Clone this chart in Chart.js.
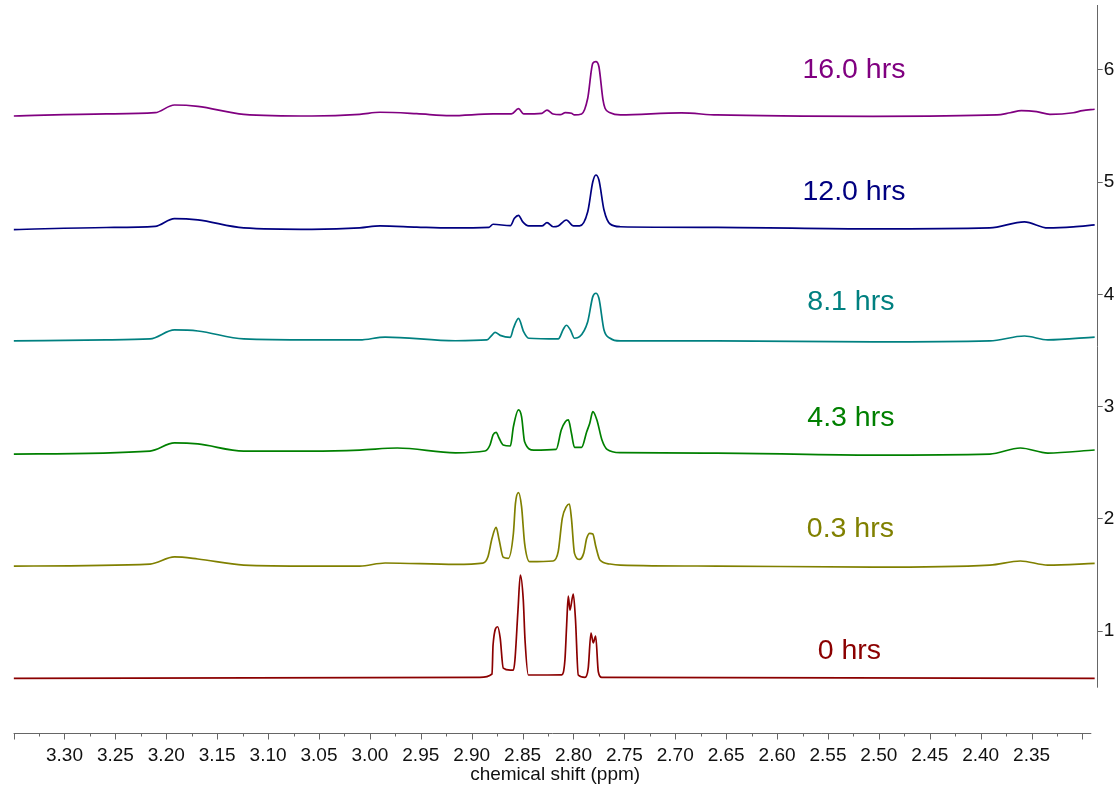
<!DOCTYPE html>
<html>
<head>
<meta charset="utf-8">
<script src="https://cdn.jsdelivr.net/npm/chart.js@4.4.1/dist/chart.umd.min.js"></script>
<style>
  body { margin: 0; background: #fff; }
  canvas { display: block; }
</style>
</head>
<body>
<canvas id="nmr" width="1120" height="785"></canvas>
<script>
// spectra as [ppm, stacked intensity]
const spec0 = [[3.350,0.578],[2.892,0.587],[2.880,0.617],[2.879,0.875],[2.8745,1.038],[2.872,0.938],[2.869,0.670],[2.862,0.652],[2.859,0.652],[2.8575,0.742],[2.8545,1.188],[2.8522,1.499],[2.8493,1.276],[2.8476,0.920],[2.8443,0.608],[2.8116,0.610],[2.8084,0.742],[2.8067,1.054],[2.8051,1.312],[2.8035,1.187],[2.8002,1.330],[2.798,1.098],[2.7953,0.608],[2.7887,0.587],[2.7855,0.670],[2.7828,0.982],[2.7806,0.895],[2.7782,0.955],[2.7756,0.637],[2.7723,0.587],[2.288,0.578]];
const spec1 = [[3.350,1.579],[3.216,1.597],[3.192,1.660],[3.169,1.642],[3.124,1.588],[3.057,1.579],[3.010,1.579],[2.985,1.606],[2.916,1.594],[2.889,1.605],[2.884,1.662],[2.880,1.826],[2.876,1.924],[2.873,1.811],[2.869,1.657],[2.864,1.648],[2.859,1.871],[2.857,2.138],[2.854,2.233],[2.851,2.108],[2.848,1.782],[2.843,1.618],[2.820,1.624],[2.815,1.707],[2.811,2.004],[2.807,2.108],[2.804,2.132],[2.802,2.004],[2.799,1.692],[2.794,1.639],[2.790,1.692],[2.787,1.826],[2.784,1.871],[2.781,1.865],[2.778,1.751],[2.774,1.633],[2.764,1.597],[2.754,1.588],[2.659,1.579],[2.506,1.570],[2.391,1.588],[2.361,1.624],[2.334,1.588],[2.288,1.603]];
const spec2 = [[3.350,2.577],[3.216,2.604],[3.192,2.676],[3.169,2.667],[3.124,2.604],[3.057,2.604],[3.010,2.613],[2.973,2.631],[2.916,2.588],[2.887,2.604],[2.882,2.658],[2.879,2.747],[2.876,2.771],[2.873,2.718],[2.869,2.658],[2.862,2.649],[2.859,2.821],[2.854,2.970],[2.851,2.911],[2.848,2.687],[2.839,2.613],[2.817,2.619],[2.812,2.791],[2.808,2.865],[2.805,2.881],[2.802,2.762],[2.799,2.637],[2.792,2.637],[2.787,2.776],[2.784,2.851],[2.781,2.955],[2.777,2.881],[2.772,2.702],[2.767,2.619],[2.754,2.589],[2.659,2.586],[2.506,2.568],[2.391,2.577],[2.361,2.631],[2.334,2.586],[2.288,2.613]];
const spec3 = [[3.350,3.585],[3.259,3.595],[3.216,3.603],[3.192,3.683],[3.169,3.674],[3.124,3.603],[3.057,3.594],[3.010,3.594],[2.985,3.620],[2.916,3.587],[2.885,3.594],[2.880,3.638],[2.877,3.662],[2.872,3.635],[2.862,3.617],[2.859,3.698],[2.854,3.787],[2.849,3.668],[2.844,3.609],[2.815,3.603],[2.810,3.689],[2.807,3.725],[2.803,3.683],[2.799,3.609],[2.794,3.623],[2.786,3.757],[2.781,3.980],[2.778,4.010],[2.775,3.965],[2.770,3.683],[2.764,3.609],[2.754,3.585],[2.659,3.585],[2.506,3.576],[2.391,3.585],[2.357,3.629],[2.334,3.594],[2.288,3.620]];
const spec4 = [[3.350,4.578],[3.259,4.596],[3.211,4.607],[3.192,4.676],[3.169,4.664],[3.124,4.593],[3.057,4.580],[3.010,4.593],[2.990,4.611],[2.954,4.600],[2.921,4.592],[2.883,4.598],[2.879,4.625],[2.862,4.612],[2.858,4.678],[2.854,4.705],[2.850,4.648],[2.844,4.610],[2.831,4.610],[2.826,4.639],[2.820,4.603],[2.815,4.610],[2.807,4.663],[2.800,4.610],[2.794,4.610],[2.786,4.737],[2.781,5.004],[2.778,5.064],[2.775,5.020],[2.770,4.752],[2.764,4.627],[2.754,4.603],[2.659,4.597],[2.506,4.583],[2.391,4.592],[2.357,4.646],[2.334,4.592],[2.309,4.601],[2.288,4.619]];
const spec5 = [[3.350,5.590],[3.259,5.608],[3.211,5.619],[3.192,5.688],[3.169,5.676],[3.124,5.605],[3.057,5.590],[3.010,5.605],[2.990,5.623],[2.954,5.611],[2.921,5.593],[2.879,5.608],[2.861,5.608],[2.854,5.655],[2.849,5.608],[2.831,5.614],[2.826,5.643],[2.820,5.608],[2.813,5.602],[2.808,5.619],[2.802,5.614],[2.799,5.599],[2.792,5.608],[2.786,5.748],[2.781,6.060],[2.778,6.074],[2.775,6.029],[2.771,5.733],[2.769,5.659],[2.764,5.619],[2.754,5.599],[2.694,5.617],[2.659,5.599],[2.506,5.587],[2.384,5.599],[2.371,5.619],[2.360,5.637],[2.345,5.628],[2.332,5.605],[2.309,5.619],[2.300,5.637],[2.288,5.650]];

const spectra = [spec0, spec1, spec2, spec3, spec4, spec5];
const times = ['0 hrs', '0.3 hrs', '4.3 hrs', '8.1 hrs', '12.0 hrs', '16.0 hrs'];
const colors = ['#8b0000', '#808000', '#008000', '#008080', '#000080', '#800080'];

// where the time labels sit, in ppm / stack units
const labelPpm = [2.529, 2.528, 2.5275, 2.5275, 2.5245, 2.5245];
const labelY = [0.822, 1.909, 2.898, 3.932, 4.912, 6.000];

// axis ranges and ticks
const xLeft = 3.35;
const xRight = 2.286;
const xAxisEnd = 2.2913;
const xTicks = [];
for (let i = 0; i <= 42; i++) xTicks.push(Math.round((2.30 + i * 0.025) * 1000) / 1000);
const yTicks = [1, 2, 3, 4, 5, 6];
const yBottom = 0.109;
const yTop = 6.579;
const yAxisEnd = 0.495;

const isMajor = v => Math.round(v * 1000) % 50 === 0;

const extras = {
  id: 'extras',
  afterDatasetsDraw(chart) {
    const ctx = chart.ctx;
    const x = chart.scales.x, y = chart.scales.y;
    ctx.save();
    ctx.font = '28.5px "Liberation Sans", Arial, sans-serif';
    ctx.textAlign = 'center';
    ctx.textBaseline = 'middle';
    times.forEach((t, i) => {
      ctx.fillStyle = colors[i];
      ctx.fillText(t, x.getPixelForValue(labelPpm[i]), y.getPixelForValue(labelY[i]));
    });
    ctx.restore();
  },
  afterDraw(chart) {
    const ctx = chart.ctx;
    const x = chart.scales.x, y = chart.scales.y;
    const area = chart.chartArea;
    ctx.save();
    ctx.strokeStyle = '#666';
    ctx.lineWidth = 1;
    // bottom axis line and tick marks
    const by = area.bottom + 2.5;
    ctx.beginPath();
    ctx.moveTo(area.left, by);
    ctx.lineTo(x.getPixelForValue(xAxisEnd), by);
    xTicks.forEach(v => {
      const px = Math.round(x.getPixelForValue(v)) + 0.5;
      ctx.moveTo(px, by);
      ctx.lineTo(px, by + (isMajor(v) ? 6 : 3));
    });
    // right axis line
    const rx = Math.round(area.right) + 0.5;
    ctx.moveTo(rx, area.top);
    ctx.lineTo(rx, y.getPixelForValue(yAxisEnd));
    ctx.stroke();
    ctx.restore();
  }
};

new Chart(document.getElementById('nmr'), {
  type: 'line',
  data: {
    datasets: spectra.map((s, i) => ({
      label: times[i],
      data: s.map(p => ({ x: p[0], y: p[1] })),
      borderColor: colors[i],
      borderWidth: 1.7,
      pointRadius: 0,
      cubicInterpolationMode: 'monotone',
      fill: false
    }))
  },
  options: {
    responsive: false,
    devicePixelRatio: 1,
    animation: false,
    layout: { padding: { left: 13.6, top: 5, right: 0, bottom: 0 } },
    plugins: { legend: { display: false }, tooltip: { enabled: false } },
    scales: {
      x: {
        type: 'linear',
        reverse: true,
        min: xRight,
        max: xLeft,
        grid: { display: false },
        border: { display: false },
        afterBuildTicks: s => { s.ticks = xTicks.map(v => ({ value: v })); },
        afterFit: s => { s.height = 54; s.paddingLeft = 0; s.paddingRight = 0; },
        ticks: {
          autoSkip: false,
          maxRotation: 0,
          padding: 5,
          color: '#111',
          font: { family: '"Liberation Sans", Arial, sans-serif', size: 19 },
          callback: v => (isMajor(v) && v !== 2.3 && v !== 3.35) ? v.toFixed(2) : ''
        },
        title: {
          display: true,
          text: 'chemical shift (ppm)',
          color: '#111',
          padding: { top: 0, bottom: -1.5 },
          font: { family: '"Liberation Sans", Arial, sans-serif', size: 19 }
        }
      },
      y: {
        type: 'linear',
        position: 'right',
        min: yBottom,
        max: yTop,
        afterBuildTicks: s => { s.ticks = yTicks.map(v => ({ value: v })); },
        afterFit: s => { s.width = 23.3; s.paddingTop = 0; s.paddingBottom = 0; },
        grid: { drawOnChartArea: false, tickLength: 6, color: '#666' },
        border: { display: false },
        ticks: {
          padding: 1,
          color: '#111',
          font: { family: '"Liberation Sans", Arial, sans-serif', size: 19 }
        }
      }
    }
  },
  plugins: [extras]
});
</script>
</body>
</html>
